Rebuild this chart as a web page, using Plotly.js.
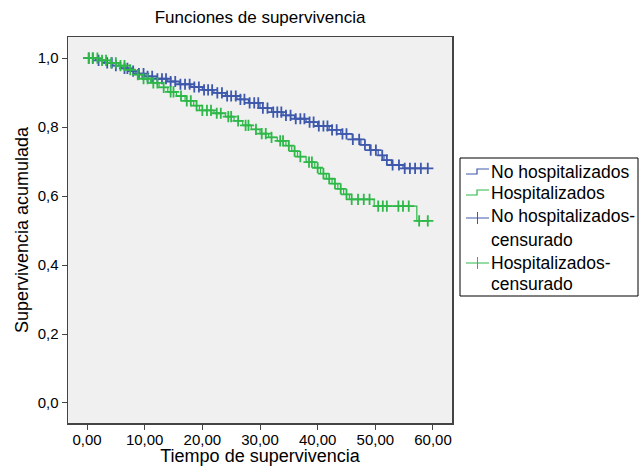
<!DOCTYPE html>
<html>
<head>
<meta charset="utf-8">
<script src="https://cdn.plot.ly/plotly-3.0.1.min.js"></script>
<style>html,body{margin:0;padding:0;background:#fff;}</style>
</head>
<body>
<div id="chart" style="width:639px;height:466px;"></div>
<script>
// ---- Data ----
const blueTimes = [0, 1.5, 3, 4.5, 6, 7.5, 8.5, 10, 12, 14, 16, 18, 20, 22, 24, 26, 28, 30, 32, 34, 36, 38, 40, 42, 44, 46, 47.5, 49, 50.5, 51.5, 52.8, 54.8];
const blueSurv  = [1.000, 0.993, 0.986, 0.978, 0.970, 0.962, 0.955, 0.947, 0.940, 0.932, 0.924, 0.916, 0.908, 0.899, 0.890, 0.880, 0.870, 0.855, 0.843, 0.834, 0.824, 0.814, 0.803, 0.792, 0.780, 0.764, 0.748, 0.733, 0.718, 0.704, 0.690, 0.680];
const blueEnd = 59.3;
const blueCensor = [0.3, 1, 2, 3.5, 4.3, 5, 6.5, 7, 8, 9, 9.8, 10.5, 11.3, 12.2, 13, 13.7, 14.5, 15.3, 16.2, 17, 17.8, 18.6, 19.4, 20.3, 21, 21.7, 22.6, 23.4, 24.3, 25, 25.8, 26.6, 27.3, 28.2, 29, 29.7, 30.5, 31.3, 32.3, 33, 33.7, 34.5, 35.3, 36.2, 37, 37.7, 38.6, 39.3, 40.2, 41, 41.7, 42.5, 43.3, 44.3, 45, 46.1, 47.2, 48.2, 49.2, 50.1, 51.2, 52, 53, 54.1, 55.1, 56, 56.9, 57.9, 59.1];

const greenTimes = [0, 2, 4, 5.5, 7, 8.3, 9.5, 11, 12.5, 14, 15.5, 17, 18.5, 19.5, 22, 24, 25.5, 27, 28.5, 30, 31.5, 33, 34.5, 35.5, 36.5, 38, 39.5, 40.5, 41.5, 42.5, 43.5, 44.5, 45.5, 49.8, 57.2];
const greenSurv  = [1.000, 0.993, 0.986, 0.978, 0.966, 0.952, 0.940, 0.928, 0.915, 0.902, 0.890, 0.876, 0.862, 0.848, 0.840, 0.830, 0.818, 0.805, 0.793, 0.781, 0.770, 0.760, 0.746, 0.730, 0.714, 0.698, 0.682, 0.665, 0.650, 0.636, 0.621, 0.605, 0.590, 0.571, 0.528];
const greenEnd = 59.3;
const greenCensor = [0.3, 1, 1.8, 2.6, 3.3, 4.2, 5, 5.8, 6.5, 7.5, 8.8, 9.8, 10.5, 11.5, 12.2, 13.3, 14.5, 15, 16.3, 17.3, 18, 19, 20, 20.8, 21.5, 22.5, 23.2, 24.5, 25, 26.2, 27.5, 28, 29.3, 30.3, 31, 32, 33.5, 34, 35, 36, 37, 38.5, 39, 40, 41, 42, 43, 44, 45, 45.9, 47, 48, 49, 50.5, 51.3, 52, 54, 54.8, 55.8, 57.6, 59.1];

const seriesNames = ["No hospitalizados", "Hospitalizados"];
const xTicks = [0, 10, 20, 30, 40, 50, 60];
const yTicks = [0, 0.2, 0.4, 0.6, 0.8, 1.0];

// ---- Styling ----
const BLUE = "#3e58ac";
const GREEN = "#2eb848";
const FONT = "Liberation Sans, Arial, Helvetica, sans-serif";

function survAt(T, S, t) {
  let s = S[0];
  for (let i = 0; i < T.length; i++) { if (T[i] <= t) s = S[i]; }
  return s;
}

function stepTrace(T, S, end, color, name) {
  return {
    x: T.concat([end]), y: S.concat([S[S.length - 1]]),
    type: "scatter", mode: "lines", line: {shape: "hv", color: color, width: 1.2},
    name: name, showlegend: false, hoverinfo: "skip"
  };
}
function censorTrace(C, T, S, color, name) {
  return {
    x: C, y: C.map(t => survAt(T, S, t)),
    type: "scatter", mode: "markers",
    marker: {symbol: "cross-thin-open", size: 8, line: {color: color, width: 1.8}, color: color},
    name: name, showlegend: false, hoverinfo: "skip"
  };
}

const traces = [
  stepTrace(blueTimes, blueSurv, blueEnd, BLUE, seriesNames[0]),
  stepTrace(greenTimes, greenSurv, greenEnd, GREEN, seriesNames[1]),
  censorTrace(blueCensor, blueTimes, blueSurv, BLUE, seriesNames[0] + "-censurado"),
  censorTrace(greenCensor, greenTimes, greenSurv, GREEN, seriesNames[1] + "-censurado")
];

// pixel -> paper helpers for the hand-made legend
const W = 639, H = 466, ML = 68, MR = 187, MT = 37, MB = 43;
const PW = W - ML - MR, PH = H - MT - MB;
const px = v => (v - ML) / PW;
const py = v => (H - MB - v) / PH;

const shapes = [
  {type: "rect", xref: "paper", yref: "paper", x0: px(460), x1: px(638), y0: py(296), y1: py(158),
   line: {color: "#000", width: 1}, fillcolor: "#fff", layer: "above"},
  // step icons
  {type: "path", xref: "paper", yref: "paper",
   path: `M ${px(466)} ${py(174)} L ${px(477)} ${py(174)} L ${px(477)} ${py(169)} L ${px(489)} ${py(169)}`,
   line: {color: BLUE, width: 1.2}},
  {type: "path", xref: "paper", yref: "paper",
   path: `M ${px(466)} ${py(195)} L ${px(477)} ${py(195)} L ${px(477)} ${py(190)} L ${px(489)} ${py(190)}`,
   line: {color: GREEN, width: 1.2}},
  // cross icons
  {type: "line", xref: "paper", yref: "paper", x0: px(466), x1: px(489), y0: py(218), y1: py(218), line: {color: BLUE, width: 1}},
  {type: "line", xref: "paper", yref: "paper", x0: px(477.5), x1: px(477.5), y0: py(212), y1: py(224), line: {color: BLUE, width: 1}},
  {type: "line", xref: "paper", yref: "paper", x0: px(466), x1: px(489), y0: py(263), y1: py(263), line: {color: GREEN, width: 1}},
  {type: "line", xref: "paper", yref: "paper", x0: px(477.5), x1: px(477.5), y0: py(257), y1: py(269), line: {color: GREEN, width: 1}}
];

const legendLines = [
  [seriesNames[0], 172], [seriesNames[1], 193],
  [seriesNames[0] + "-", 216], ["censurado", 240],
  [seriesNames[1] + "-", 263], ["censurado", 284]
];
const annotations = legendLines.map(([t, y]) => ({
  text: t, xref: "paper", yref: "paper", x: px(489), y: py(y), xanchor: "left", yanchor: "middle",
  showarrow: false, font: {family: FONT, size: 17.5, color: "#000"}
}));

const axisCommon = {
  showgrid: false, zeroline: false, showline: true, mirror: true,
  linecolor: "#444", linewidth: 1.5, ticks: "outside", ticklen: 5, tickcolor: "#444", tickwidth: 1,
  tickfont: {family: FONT, size: 15, color: "#000"}
};

const layout = {
  width: W, height: H,
  margin: {l: ML, r: MR, t: MT, b: MB},
  paper_bgcolor: "#fff", plot_bgcolor: "#f0f0f0",
  separators: ", ",
  font: {family: FONT, color: "#000"},
  title: {text: "Funciones de supervivencia", x: 0.5, xref: "paper", y: 1 - 17 / H, yref: "container",
          xanchor: "center", yanchor: "middle", font: {family: FONT, size: 17, color: "#000"}},
  xaxis: Object.assign({}, axisCommon, {
    range: [-3.3, 63.3], tickvals: xTicks, tickformat: ".2f", ticklabelstandoff: -3,
    title: {text: "Tiempo de supervivencia", font: {family: FONT, size: 18, color: "#000"}, standoff: 3}
  }),
  yaxis: Object.assign({}, axisCommon, {
    range: [-0.058, 1.061], tickvals: yTicks, tickformat: ".1f",
    title: {text: "Supervivencia acumulada", font: {family: FONT, size: 18, color: "#000"}, standoff: 4}
  }),
  shapes: shapes,
  annotations: annotations
};

Plotly.newPlot("chart", traces, layout, {displayModeBar: false, staticPlot: true});
</script>
</body>
</html>
